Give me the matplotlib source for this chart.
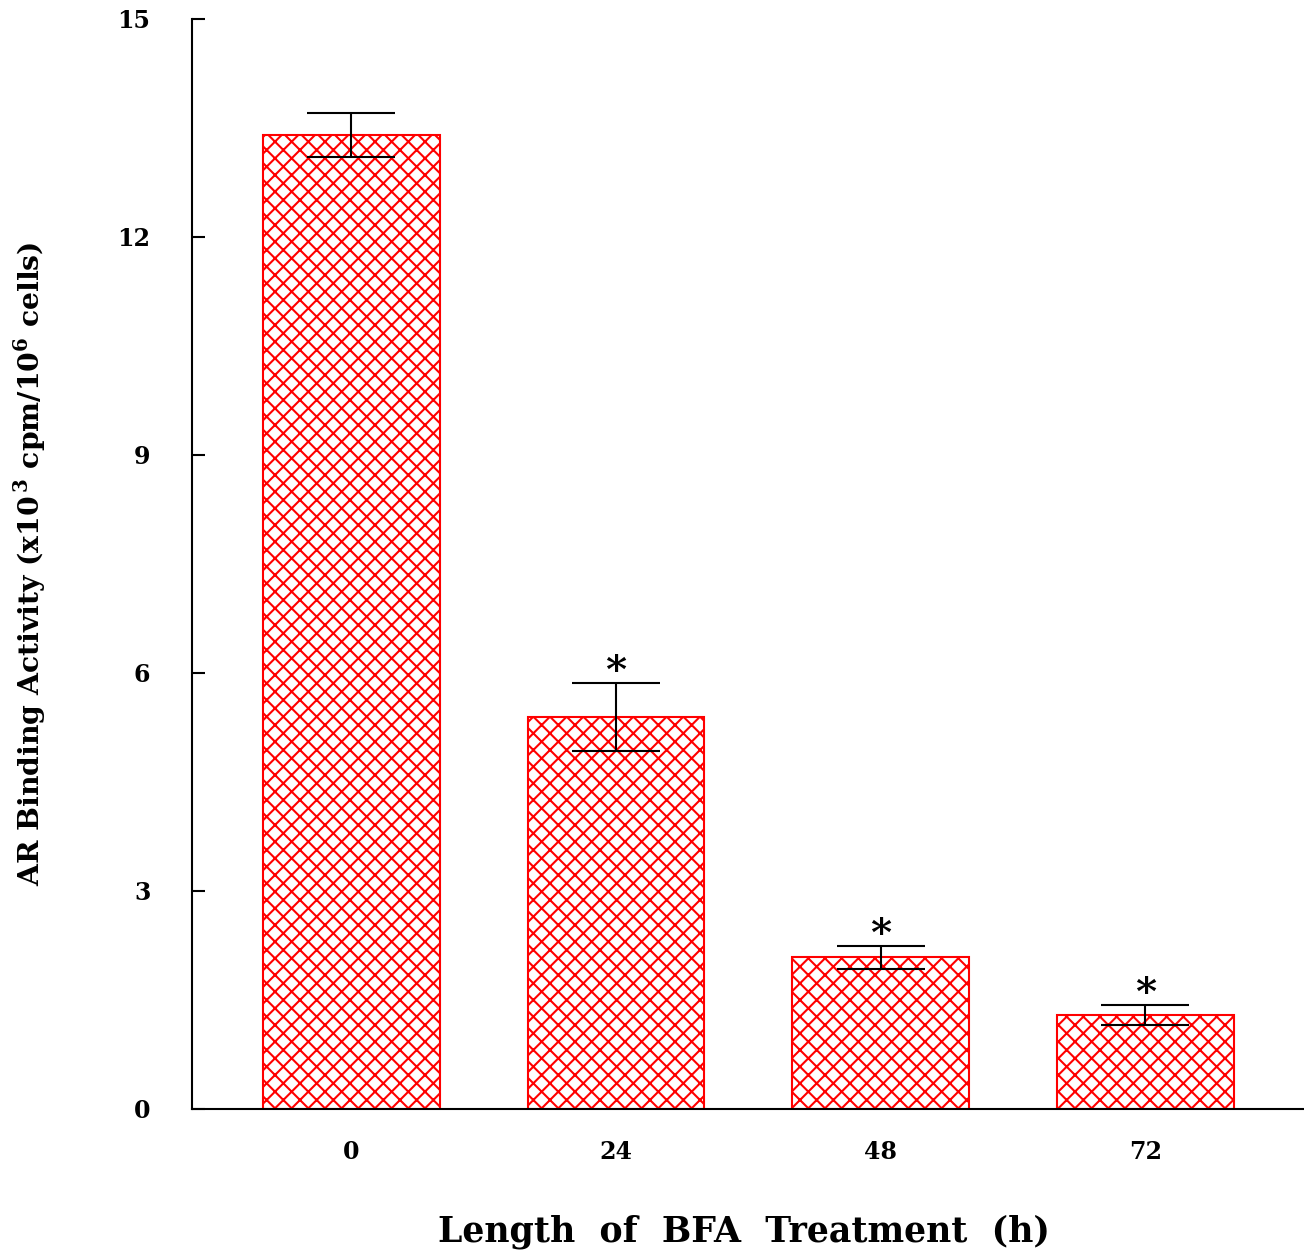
import matplotlib
matplotlib.use("Agg")
import matplotlib.pyplot as plt

categories = ["0", "24", "48", "72"]
values = [13.40, 5.39, 2.09, 1.29]
errors = [0.30, 0.47, 0.16, 0.14]
significant = [False, True, True, True]
yticks = [0, 3, 6, 9, 12, 15]

FONT = 'DejaVu Serif'
plt.rcParams['mathtext.fontset'] = 'custom'
plt.rcParams['mathtext.rm'] = 'DejaVu Serif:bold'
plt.rcParams['mathtext.bf'] = 'DejaVu Serif:bold'
plt.rcParams['hatch.linewidth'] = 1.5
plt.rcParams['hatch.color'] = 'red'

fig = plt.figure(figsize=(13.04, 12.55), dpi=100)
ax = fig.add_axes([192/1304, 1-1109/1255, 1-192/1304, (1109-19)/1255])

x = list(range(len(categories)))
ax.bar(x, values, width=0.668, color='white', edgecolor='red', hatch='xx', linewidth=1.5, zorder=2)
ax.errorbar(x, values, yerr=errors, fmt='none', ecolor='black', elinewidth=1.5,
            capsize=32, capthick=1.5, zorder=3)
for xi, v, e, s in zip(x, values, errors, significant):
    if s:
        ax.text(xi, v + e + 0.15, '*', ha='center', va='center', fontsize=29,
                fontweight='bold', family=FONT)

ax.set_xlim(-0.602, 3.6)
ax.set_ylim(0, 15)
ax.set_yticks(yticks)
ax.set_yticklabels([str(t) for t in yticks], fontsize=17, fontweight='bold', family=FONT)
ax.set_xticks(x)
ax.set_xticklabels(categories, fontsize=17, fontweight='bold', family=FONT)
ax.tick_params(axis='y', direction='in', length=9, width=1.5, pad=30)
ax.tick_params(axis='x', length=0, pad=22)
for sp in ['top', 'right']:
    ax.spines[sp].set_visible(False)
for sp in ['left', 'bottom']:
    ax.spines[sp].set_linewidth(1.5)

ax.set_ylabel(r'AR Binding Activity (x10$^{\,3}$ cpm/10$^{6}$ cells)', fontsize=20.3,
              fontweight='bold', family=FONT)
ax.yaxis.set_label_coords(-0.1295, 0.5)
ax.set_xlabel('Length  of  BFA  Treatment  (h)', fontsize=25, fontweight='bold',
              family=FONT)
ax.xaxis.set_label_coords(0.496, -0.097)

fig.savefig('out.png', dpi=100)
